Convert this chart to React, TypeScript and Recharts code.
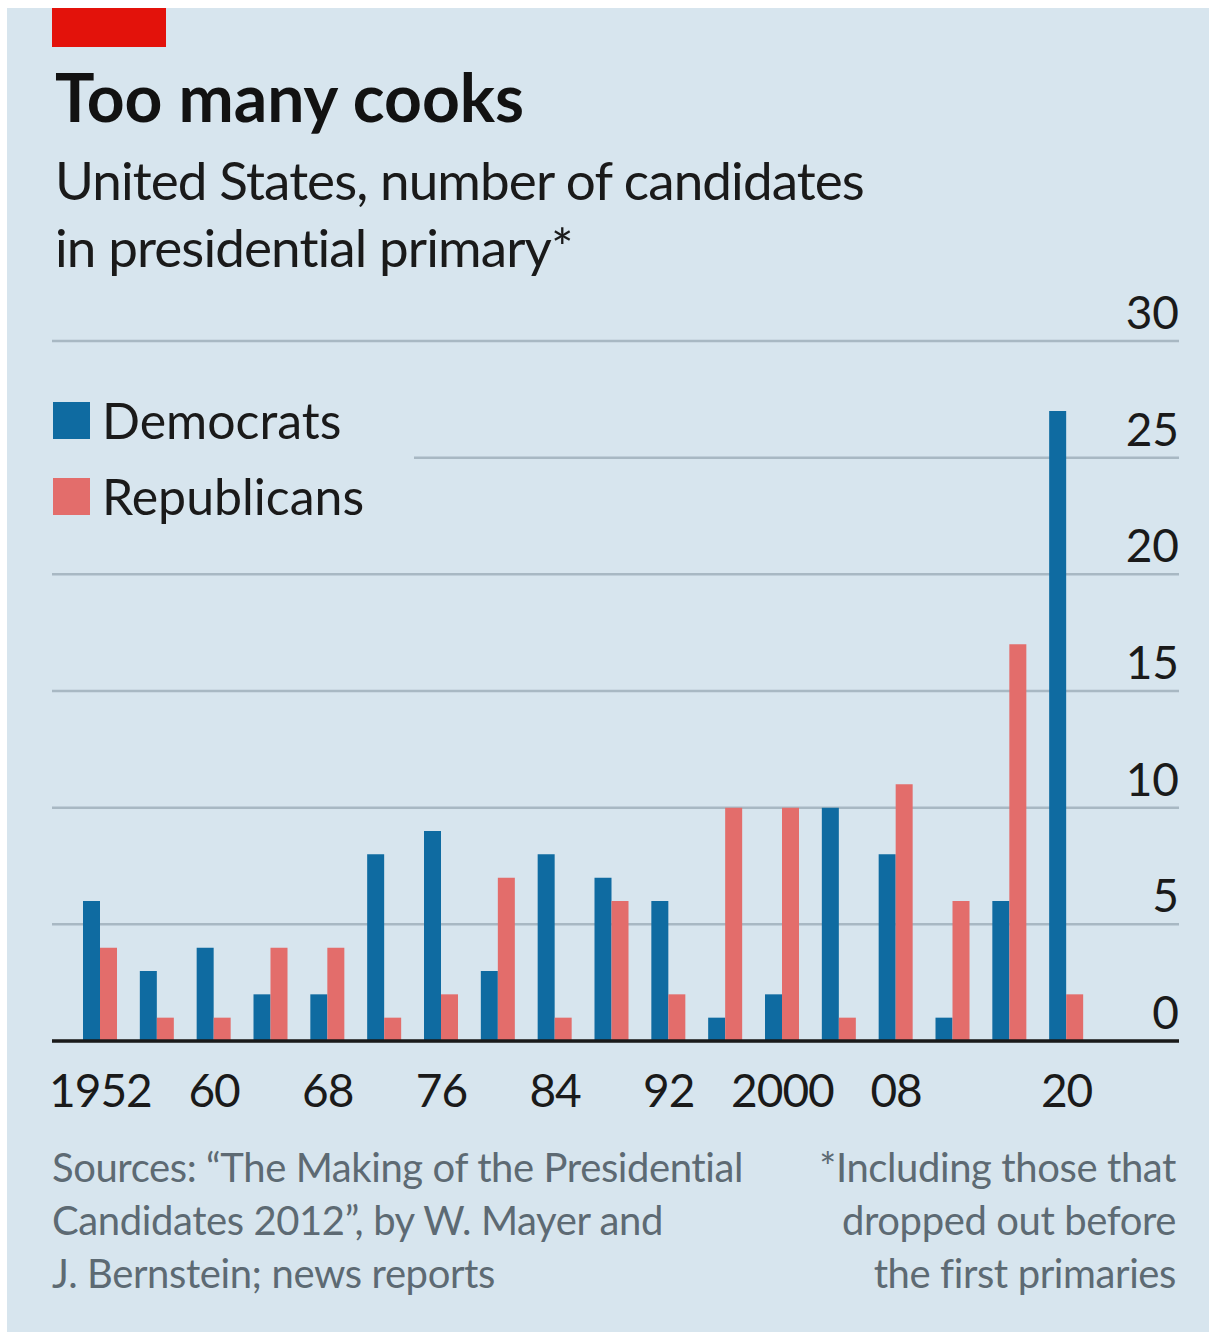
import React from "react";
import { BarChart, Bar, CartesianGrid, XAxis, YAxis } from "recharts";

const years = ["1952", "1956", "1960", "1964", "1968", "1972", "1976", "1980", "1984", "1988", "1992", "1996", "2000", "2004", "2008", "2012", "2016", "2020"];
const yearLabels = ["1952", "", "60", "", "68", "", "76", "", "84", "", "92", "", "2000", "", "08", "", "", "20"];
const democrats = [6, 3, 4, 2, 2, 8, 9, 3, 8, 7, 6, 1, 2, 10, 8, 1, 6, 27];
const republicans = [4, 1, 1, 4, 4, 1, 2, 7, 1, 6, 2, 10, 10, 1, 11, 6, 17, 2];
const yTicks = [0, 5, 10, 15, 20, 25, 30];

const data = years.map((year, i) => ({ year, dem: democrats[i], rep: republicans[i] }));

const BG = "#d7e5ee";
const BLUE = "#0f6ba1";
const PINK = "#e36d6b";
const FONT = "Lato, 'Noto Sans', sans-serif";

const XTick = ({ x, y, payload }) => (
  <text x={x} y={y} dy={66} textAnchor="middle" fontFamily={FONT} fontSize={46} letterSpacing={-1} fill="#1a1a1a">
    {yearLabels[years.indexOf(payload.value)]}
  </text>
);

const YTick = ({ x, y, payload }) => (
  <text x={x} y={y} dy={-12} textAnchor="end" fontFamily={FONT} fontSize={46} fill="#1a1a1a">
    {payload.value}
  </text>
);

export default function App() {
  return (
    <div style={{ position: "fixed", left: 0, top: 0, width: 1209, height: 1332, background: "#fff" }}>
      <div style={{ position: "absolute", left: 7, top: 8, right: 0, bottom: 0, background: BG }} />
      <div style={{ position: "absolute", left: 0, top: 0 }}>
        <BarChart width={1209} height={1140} data={data} margin={{ top: 341, right: 30, left: 52, bottom: 29 }} barGap={0}>
          <CartesianGrid vertical={false} stroke="#a8b8c3" strokeWidth={2.5} />
          <XAxis
            dataKey="year"
            interval={0}
            height={70}
            padding={{ left: 20, right: 84 }}
            tickLine={false}
            tickSize={0}
            tickMargin={0}
            axisLine={{ stroke: "#1a1a1a", strokeWidth: 3.5 }}
            tick={XTick}
          />
          <YAxis
            orientation="right"
            mirror
            width={1}
            domain={[0, 30]}
            ticks={yTicks}
            interval={0}
            axisLine={false}
            tickLine={false}
            tickSize={0}
            tickMargin={0}
            tick={YTick}
          />
          <Bar dataKey="dem" fill={BLUE} barSize={17} isAnimationActive={false} />
          <Bar dataKey="rep" fill={PINK} barSize={17} isAnimationActive={false} />
        </BarChart>
      </div>
      <svg width={1209} height={1332} style={{ position: "absolute", left: 0, top: 0, pointerEvents: "none" }}>
        <rect x={52} y={8} width={114} height={39} fill="#e3120b" />
        <text x={55} y={122} fontFamily={FONT} fontWeight={700} fontSize={66} fill="#121212">Too many cooks</text>
        <text fontFamily={FONT} fontSize={53} letterSpacing={-0.9} fill="#1a1a1a">
          <tspan x={55} y={200}>United States, number of candidates</tspan>
          <tspan x={55} y={267}>in presidential primary*</tspan>
        </text>
        <rect x={45} y={448} width={369} height={20} fill={BG} />
        <rect x={53} y={402} width={37} height={37} fill={BLUE} />
        <text x={102} y={439} fontFamily={FONT} fontSize={50} fill="#1a1a1a">Democrats</text>
        <rect x={53} y={478} width={37} height={37} fill={PINK} />
        <text x={102} y={515} fontFamily={FONT} fontSize={50} fill="#1a1a1a">Republicans</text>
        <text fontFamily={FONT} fontSize={40} letterSpacing={-0.4} fill="#5d6a73">
          <tspan x={52} y={1182}>Sources: “The Making of the Presidential</tspan>
          <tspan x={52} y={1235}>Candidates 2012”, by W. Mayer and</tspan>
          <tspan x={52} y={1288}>J. Bernstein; news reports</tspan>
        </text>
        <text fontFamily={FONT} fontSize={40} letterSpacing={-0.4} fill="#5d6a73" textAnchor="end">
          <tspan x={1176} y={1182}>*Including those that</tspan>
          <tspan x={1176} y={1235}>dropped out before</tspan>
          <tspan x={1176} y={1288}>the first primaries</tspan>
        </text>
      </svg>
    </div>
  );
}
